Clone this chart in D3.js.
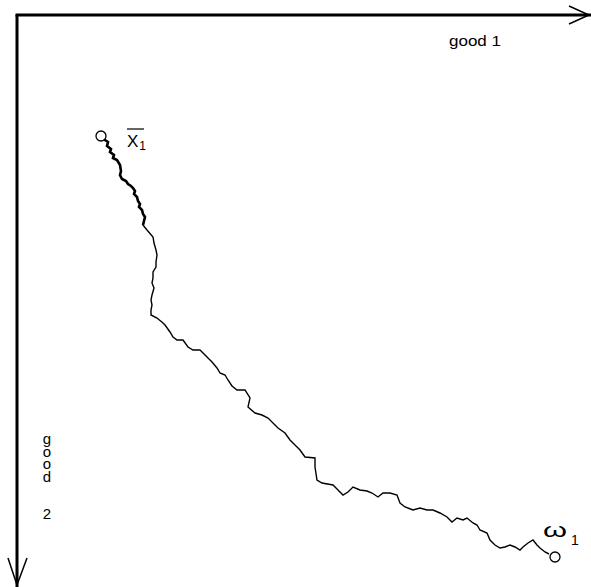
<!DOCTYPE html>
<html><head><meta charset="utf-8">
<script src="https://cdn.jsdelivr.net/npm/d3@7"></script>
<style>html,body{margin:0;padding:0;background:#fff;}svg{display:block;}</style>
</head><body>
<svg id="chart" width="591" height="587"></svg>
<script>
// Quantities of good 1 (rightwards) and good 2 (downwards), measured from the box origin
const good1 = [84,88,91,90,94,93,97,96,100,103,104,103,105,109,111,114,116,118,117,120,121,123,122,125,126,128,127,126,130,136,137,139,140,139,139,136,136,135,137,135,134,135,134,134,140,146,148,153,156,160,166,171,176,183,190,195,200,203,208,211,215,220,228,233,231,238,245,251,258,261,268,273,278,283,288,298,298,300,305,316,321,326,331,336,343,350,355,361,366,373,380,383,388,396,403,410,416,423,430,435,440,446,450,456,460,463,470,473,478,483,488,493,498,503,506,511,516,520,523,528,532];
const good2 = [121,125,127,131,134,137,140,143,145,150,156,160,164,166,169,171,173,176,179,182,186,189,192,195,199,202,206,210,215,222,228,235,240,247,252,257,263,268,273,280,285,290,295,300,303,308,310,317,322,325,325,332,335,335,342,347,353,358,360,365,371,375,375,383,392,398,400,403,410,413,418,425,430,435,442,443,452,465,468,470,475,480,477,472,475,476,478,482,478,478,480,488,492,495,493,495,495,498,502,507,503,505,503,508,510,515,518,525,530,533,532,530,532,535,532,528,525,530,533,537,539];
const thickCount = 28;               // dense, heavy part of the path near x̄1
const endowment = {g1: 538, g2: 542}; // ω1
const allocation = {g1: 84, g2: 121}; // x̄1
const axisLabels = ["good 1", "good 2"];

const svg = d3.select("#chart");
const x = d3.scaleLinear().domain([0, 574]).range([17, 591]);
const y = d3.scaleLinear().domain([0, 572]).range([15, 587]);
const font = "Liberation Sans, Arial, sans-serif";

// axes
svg.append("line").attr("x1", x(0) - 1.5).attr("y1", y(0)).attr("x2", x(574)).attr("y2", y(0))
  .attr("stroke", "#000").attr("stroke-width", 3);
svg.append("line").attr("x1", x(0)).attr("y1", y(0)).attr("x2", x(0)).attr("y2", y(572))
  .attr("stroke", "#000").attr("stroke-width", 3);
// arrowheads
svg.append("polyline")
  .attr("points", [[x(552), y(-9)], [x(572), y(0)], [x(552), y(9)]].map(p => p.join(",")).join(" "))
  .attr("fill", "none").attr("stroke", "#000").attr("stroke-width", 1.5);
svg.append("polyline")
  .attr("points", [[x(-9), y(543)], [x(0), y(570)], [x(10), y(543)]].map(p => p.join(",")).join(" "))
  .attr("fill", "none").attr("stroke", "#000").attr("stroke-width", 1.5);

// axis labels
svg.append("text").attr("x", 449).attr("y", 46)
  .attr("font-family", font).attr("font-size", 15)
  .attr("textLength", 52).attr("lengthAdjust", "spacingAndGlyphs")
  .attr("fill", "#000").text(axisLabels[0]);

// vertical stacked label "good 2"
const [w2a, w2b] = axisLabels[1].split(" ");
const vt = svg.append("text").attr("x", 47).attr("y", 430)
  .attr("font-family", font).attr("font-size", 15).attr("fill", "#000")
  .style("writing-mode", "vertical-rl").style("text-orientation", "upright");
vt.append("tspan").text(w2a);
vt.append("tspan").attr("x", 47).attr("y", 505).text(w2b);
// normalise spacing of the stacked letters to measured advance
(function fit() {
  const node = vt.node();
  const n = w2a.length;
  if (node.getNumberOfChars && n > 1) {
    const p0 = node.getStartPositionOfChar(0), p1 = node.getStartPositionOfChar(n - 1);
    const step = (p1.y - p0.y) / (n - 1);
    if (isFinite(step) && step > 0) {
      vt.style("letter-spacing", (12.5 - step) + "px");
    }
  }
})();

// path
const pts = good1.map((v, i) => [x(v), y(good2[i])]);
const line = d3.line();
svg.append("path").attr("d", line(pts)).attr("fill", "none")
  .attr("stroke", "#000").attr("stroke-width", 1.4).attr("stroke-linejoin", "miter");
svg.append("path").attr("d", line(pts.slice(0, thickCount))).attr("fill", "none")
  .attr("stroke", "#000").attr("stroke-width", 2.6);

// points
[allocation, endowment].forEach(p => {
  svg.append("circle").attr("cx", x(p.g1)).attr("cy", y(p.g2)).attr("r", 5)
    .attr("fill", "#fff").attr("stroke", "#000").attr("stroke-width", 1.3);
});

// x̄1 label
const xl = svg.append("text").attr("x", 127).attr("y", 147)
  .attr("font-family", font).attr("fill", "#000");
xl.append("tspan").attr("font-size", 17).text("X");
xl.append("tspan").attr("font-size", 12).attr("dx", 1).attr("dy", 3).text("1");
svg.append("line").attr("x1", 127).attr("x2", 144).attr("y1", 129).attr("y2", 129)
  .attr("stroke", "#000").attr("stroke-width", 1.2);

// ω1 label
const wl = svg.append("text").attr("x", 543).attr("y", 537)
  .attr("font-family", font).attr("fill", "#000");
wl.append("tspan").attr("font-size", 20).attr("textLength", 24).attr("lengthAdjust", "spacingAndGlyphs").text("ω");
wl.append("tspan").attr("font-size", 14).attr("dx", 4).attr("dy", 8).text("1");
</script>
</body></html>
